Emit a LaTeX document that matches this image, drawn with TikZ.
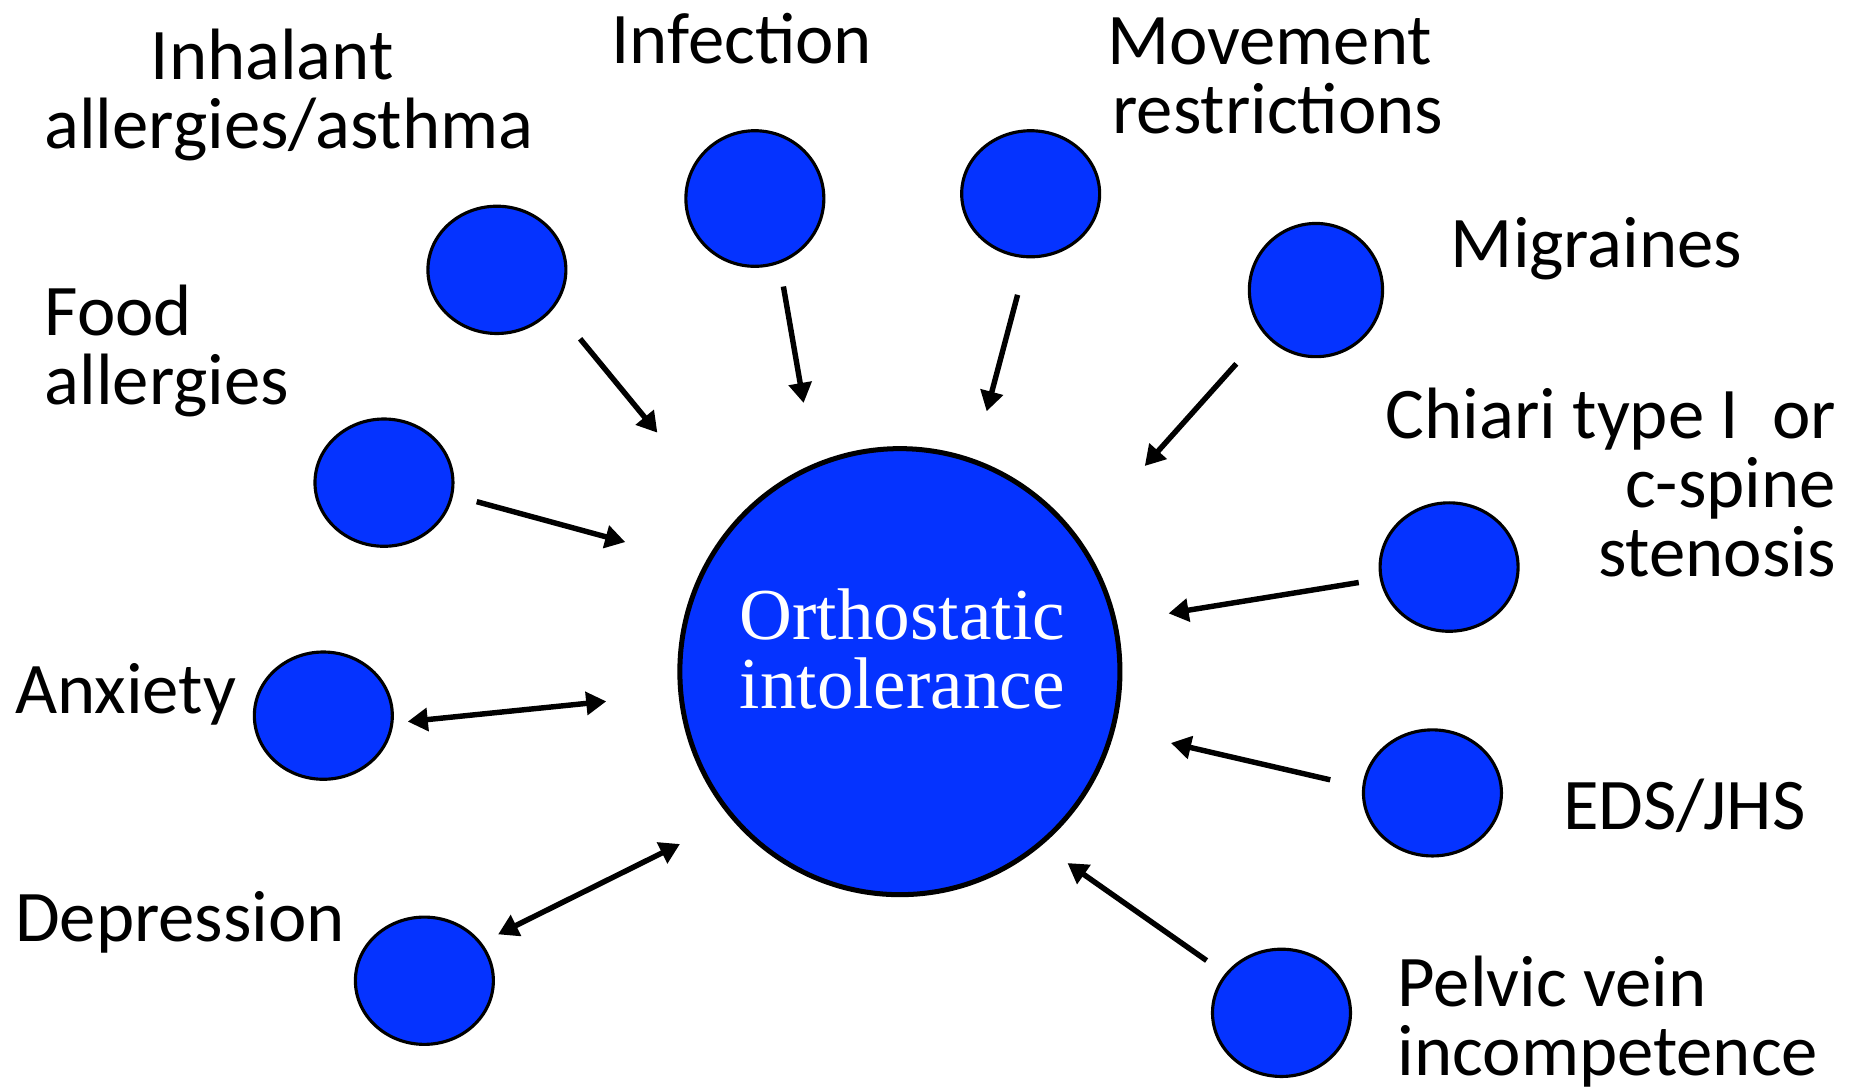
\documentclass[tikz,border=0pt]{standalone}
\usepackage{fontspec}
\setmainfont{Carlito}
\newfontfamily\oiserif{Liberation Serif}
\usetikzlibrary{arrows.meta}
\usetikzlibrary{shapes.geometric}
\definecolor{dotblue}{RGB}{5,51,255}
\newcommand\lblfont{\fontsize{17.4pt}{16.5pt}\selectfont\lineskiplimit=-20pt\relax}
\newcommand\oifont{\oiserif\fontsize{17.5pt}{16.6pt}\selectfont\lineskiplimit=-20pt\relax}
\tikzset{dot/.style={ellipse,draw=black,line width=0.75pt,fill=dotblue,
		 inner sep=0pt,minimum width=1.16cm,minimum height=1.07cm}}
\tikzset{big dot/.style={dot,line width=1.2pt,minimum width=3.70cm,minimum height=3.75cm}}
\tikzset{lbl/.style={font=\lblfont,inner sep=0pt}}
\tikzset{pull/.style={line width=1.3pt,-{Triangle[length=4.8pt,width=5.4pt]}}}
\tikzset{mutual/.style={line width=1.3pt,{Triangle[length=4.8pt,width=5.4pt]}-{Triangle[length=4.8pt,width=5.4pt]}}}

\begin{document}
\begin{tikzpicture}[x=0.01cm,y=-0.01cm]
	\useasboundingbox (0,0) rectangle (1568,918);
	% centre (base = last line)
	\node[big dot] (oi) at (757,565) {};
	\node[lbl,anchor=base,align=center,text=white,font=\oifont]
		(oi-text) at (759,596) {Orthostatic\\intolerance};
	% the small dots
	\node[dot] (inh) at (418,227) {};
	\node[dot,minimum height=1.14cm] (inf) at (635,167) {};
	\node[dot,minimum height=1.06cm] (mov) at (867,163) {};
	\node[dot,minimum width=1.12cm,minimum height=1.12cm] (mig) at (1107,244) {};
	\node[dot] (food) at (323,406) {};
	\node[dot,minimum height=1.08cm] (chi) at (1219,477) {};
	\node[dot] (anx) at (272,602) {};
	\node[dot,minimum height=1.06cm] (eds) at (1205,667) {};
	\node[dot] (dep) at (357,825) {};
	\node[dot] (pel) at (1078,852) {};
	% labels
	\node[lbl,anchor=base,align=center] (inh-l) at (243,125) {Inhalant\hspace*{0.28cm}\\allergies/asthma};
	\node[lbl,anchor=base] (inf-l) at (624,53) {Infection};
	\node[lbl,anchor=base,align=center] (mov-l) at (1075,112) {Movement\hspace*{0.14cm}\\restrictions};
	\node[lbl,anchor=base] (mig-l) at (1343,225) {Migraines};
	\node[lbl,anchor=base west,align=left] (food-l) at (37,340) {Food\\allergies};
	\node[lbl,anchor=base east,align=right] (chi-l) at (1545,485) {Chiari type I~~or\\c-spine\\stenosis};
	\node[lbl,anchor=base west] (anx-l) at (12,600) {Anxiety};
	\node[lbl,anchor=base] (eds-l) at (1417,698) {EDS/JHS};
	\node[lbl,anchor=base west] (dep-l) at (12,792) {Depression};
	\node[lbl,anchor=base west,align=left] (pel-l) at (1175,905) {Pelvic vein\\incompetence};
	% arrow ends
	\coordinate (inh-a) at (488,285);  \coordinate (inh-b) at (553,364);
	\coordinate (inf-a) at (659,241);  \coordinate (inf-b) at (676,339);
	\coordinate (mov-a) at (856,248);  \coordinate (mov-b) at (830,346);
	\coordinate (mig-a) at (1040,306); \coordinate (mig-b) at (963,392);
	\coordinate (food-a) at (401,422); \coordinate (food-b) at (526,456);
	\coordinate (chi-a) at (1143,490); \coordinate (chi-b) at (983,516);
	\coordinate (anx-a) at (343,607);  \coordinate (anx-b) at (510,590);
	\coordinate (eds-a) at (1119,656); \coordinate (eds-b) at (985,625);
	\coordinate (dep-a) at (419,786);  \coordinate (dep-b) at (572,710);
	\coordinate (pel-a) at (1015,808); \coordinate (pel-b) at (898,726);
	\draw[pull] (inh-a) -- (inh-b);
	\draw[pull] (inf-a) -- (inf-b);
	\draw[pull] (mov-a) -- (mov-b);
	\draw[pull] (mig-a) -- (mig-b);
	\draw[pull] (food-a) -- (food-b);
	\draw[pull] (chi-a) -- (chi-b);
	\draw[mutual] (anx-a) -- (anx-b);
	\draw[pull] (eds-a) -- (eds-b);
	\draw[mutual] (dep-a) -- (dep-b);
	\draw[pull] (pel-a) -- (pel-b);
\end{tikzpicture}
\end{document}
